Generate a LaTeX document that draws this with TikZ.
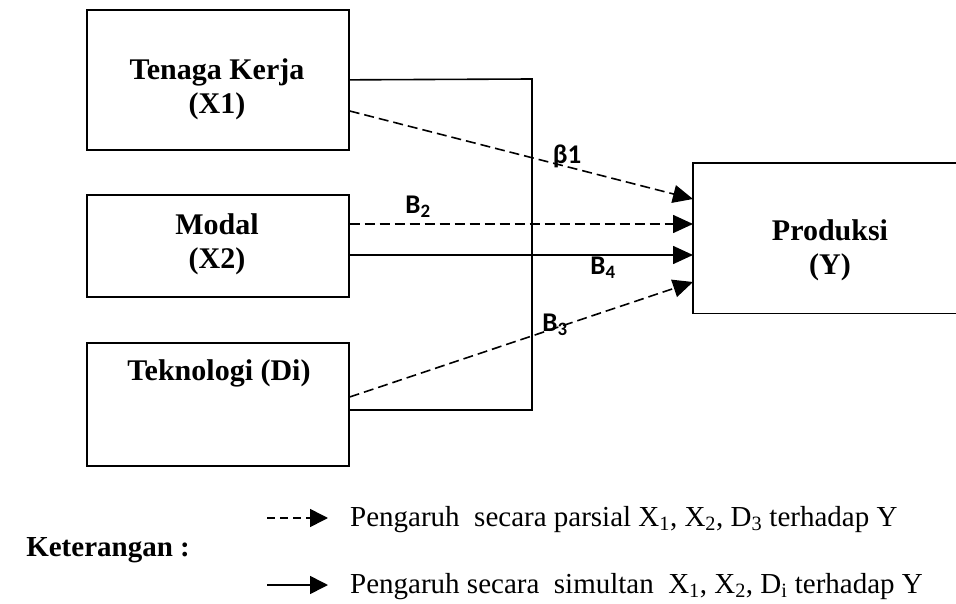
\documentclass[tikz,border=0pt]{standalone}
\usepackage{fontspec}
\setmainfont{Liberation Serif}
\newfontfamily\coeffont{Carlito}
\usetikzlibrary{arrows.meta}
\begin{document}
\begin{tikzpicture}[x=1pt,y=-1pt,
  box/.style={draw, line width=1.7pt, rectangle, inner sep=0pt, anchor=north west},
  boxtext/.style={font=\fontsize{30}{34}\selectfont\bfseries, align=center, inner sep=0pt},
  coef/.style={font=\coeffont\bfseries\fontsize{27}{29}\selectfont, inner sep=0pt},
  legtext/.style={font=\fontsize{29}{32}\selectfont, inner sep=0pt, anchor=base west},
  conn/.style={line width=1.6pt, -{Triangle[length=20pt,width=18pt]}},
  legarrow/.style={line width=1.6pt, -{Triangle[length=18pt,width=18pt]}},
  dsh/.style={dash pattern=on 10pt off 5pt},
  legdsh/.style={dash pattern=on 8pt off 5pt}]
\useasboundingbox (0,0) rectangle (956,604);

% boxes
\node[box, minimum width=262pt, minimum height=140pt] (tk) at (86,9) {};
\node[box, minimum width=262pt, minimum height=102pt] (md) at (86,194) {};
\node[box, minimum width=262pt, minimum height=123pt] (tek) at (86,342) {};
\node[inner sep=0pt, anchor=north west, minimum width=263pt, minimum height=150pt] (prod) at (693,163) {};
\draw[line width=1.7pt] (prod.north east) -- (prod.north west) -- (prod.south west) -- (prod.south east);

% box texts
\node[boxtext] (tkt) at (217,89) {Tenaga Kerja\\(X1)};
\node[boxtext] (mdt) at (217,244) {Modal\\(X2)};
\node[boxtext] (tekt) at (219,373) {Teknologi (Di)};
\node[boxtext] (prodt) at (830,250) {Produksi\\(Y)};

% bracket
\coordinate (b1) at (532,79);
\coordinate (b2) at (532,410);
\draw[line width=1.6pt] (tk.east) -- (b1) -- (b2) -- (tek.east |- b2);

% arrows
\draw[conn, dsh] ([yshift=-102pt]tk.north east) -- ([yshift=-36pt]prod.north west);
\draw[conn, dsh] ([yshift=-30pt]md.north east) -- ([yshift=-61pt]prod.north west);
\draw[conn] ([yshift=-61pt]md.north east) -- ([yshift=-92pt]prod.north west);
\draw[conn, dsh] ([yshift=-55pt]tek.north east) -- ([yshift=-119pt]prod.north west);

% coefficient labels
\node[coef] (c1) at (567,156) {β1};
\node[coef] (c2) at (418,207) {B\textsubscript{2}};
\node[coef] (c4) at (603,268) {B\textsubscript{4}};
\node[coef] (c3) at (555,325) {B\textsubscript{3}};

% legend
\node[font=\fontsize{29}{32}\selectfont\bfseries, inner sep=0pt, anchor=base east] (ket) at (190,556) {Keterangan :};
\coordinate (l1s) at (267,518);
\coordinate (l1e) at (328,518);
\draw[legarrow, legdsh] (l1s) -- (l1e);
\node[legtext] (lt1) at (350,526) {Pengaruh\ \ secara parsial X\textsubscript{1}, X\textsubscript{2}, D\textsubscript{3} terhadap Y};
\coordinate (l2s) at (267,585);
\coordinate (l2e) at (328,585);
\draw[legarrow] (l2s) -- (l2e);
\node[legtext] (lt2) at (350,593) {Pengaruh secara\ \ simultan\ \ X\textsubscript{1}, X\textsubscript{2}, D\textsubscript{i} terhadap Y};
\end{tikzpicture}
\end{document}
